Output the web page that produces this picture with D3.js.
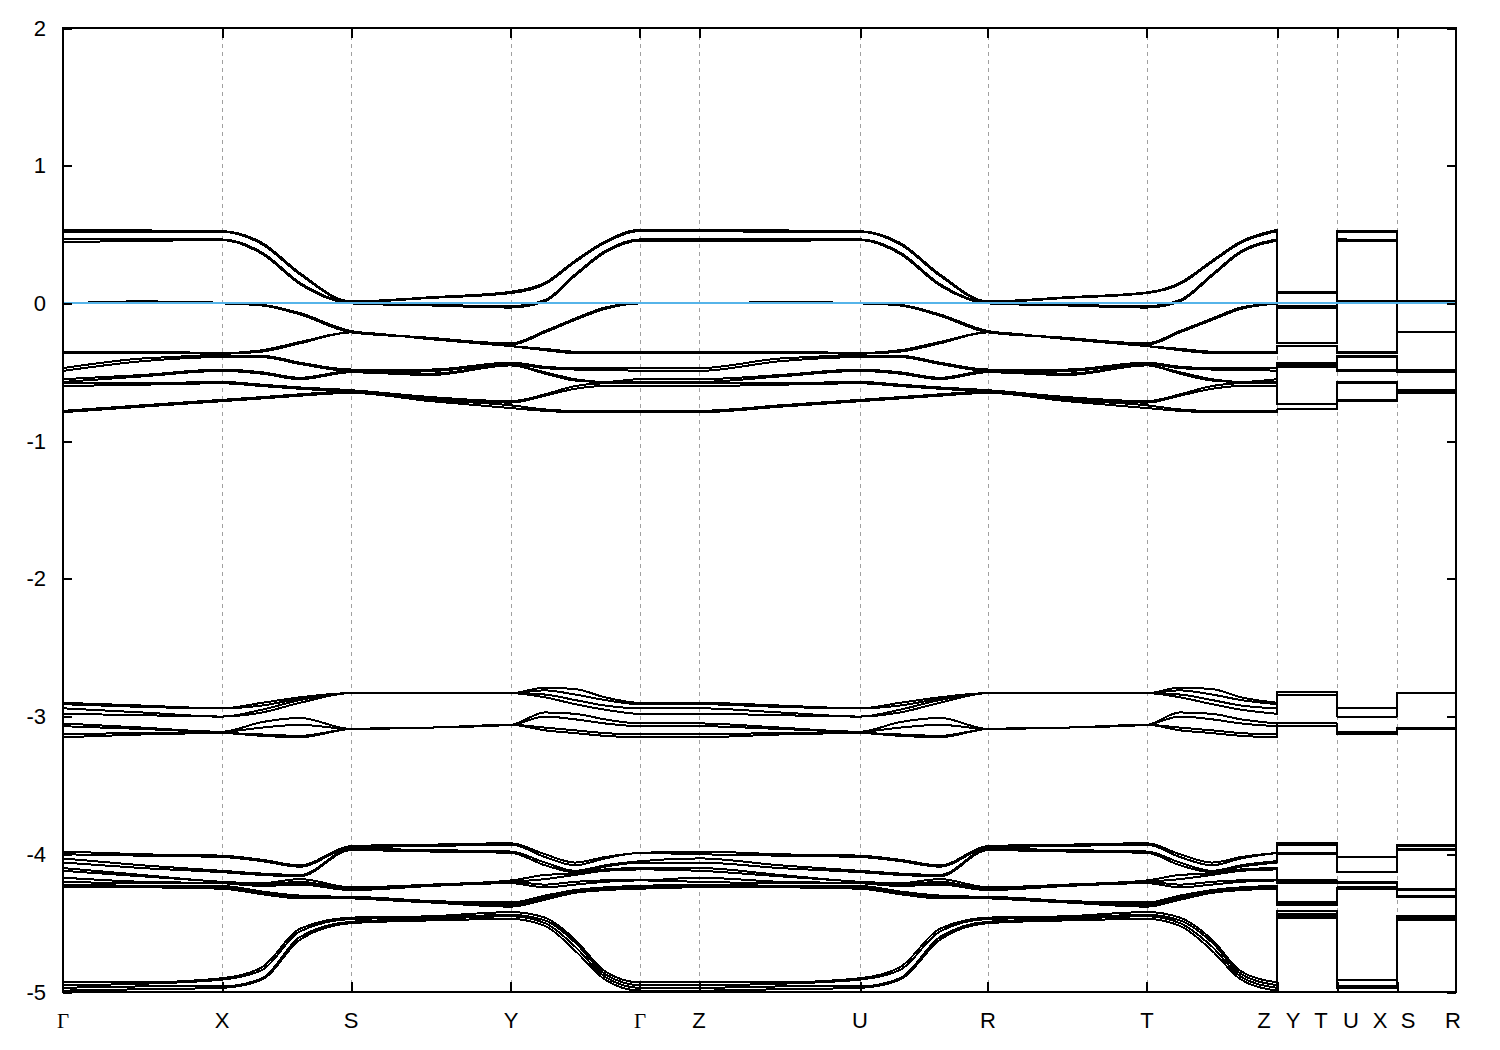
<!DOCTYPE html>
<html><head><meta charset="utf-8">
<script src="https://cdn.jsdelivr.net/npm/d3@7"></script>
<style>body{margin:0;background:#fff} svg{display:block}</style>
</head><body><svg id="chart" width="1500" height="1050"></svg>
<script>
// k-path sample positions (arbitrary path-length units)
const kSamples = [0,0.2633,0.53,0.6633,0.79,0.96,1.2267,1.4933,1.6067,1.7067,1.8067,1.9233,
  2.12,2.39,2.6567,2.79,2.9233,3.0833,3.3467,3.6133,3.7233,3.83,3.9267,4.0467,
  4.0467,4.2467, 4.2467,4.4467, 4.4467,4.6433];
// continuous pieces of the path (index ranges in kSamples)
const pieces = [[0,23],[24,25],[26,27],[28,29]];
const gridK = [0.53,0.96,1.4933,1.9233,2.12,2.6567,3.0833,3.6133,4.0467,4.2467,4.4467];
const tickLabels = ["Γ","X","S","Y","Γ","Z","U","R","T","Z","Y","T","U","X","S","R"];
const tickLabelK = [0,0.53,0.96,1.4933,1.9233,2.12,2.6567,3.0833,3.6133,4.0033,4.10,4.1933,4.2933,4.39,4.4833,4.6333];
const yTicks = [2,1,0,-1,-2,-3,-4,-5];
const fermiLevel = 0;

// band energies (eV) at each k sample
const bandA1 = [0.535,0.530,0.525,0.44,0.22,0.015,0.045,0.085,0.15,0.31,0.45,0.535, 0.535,0.530,0.525,0.44,0.21,0.015,0.045,0.080,0.15,0.31,0.45,0.535, 0.085,0.080,0.525,0.525,0.015,0.015];
const bandA2 = [0.520,0.515,0.520,0.43,0.21,0.010,0.040,0.075,0.14,0.30,0.44,0.525, 0.525,0.520,0.520,0.43,0.20,0.010,0.040,0.075,0.14,0.30,0.44,0.525, 0.075,0.075,0.520,0.520,0.010,0.010];
const bandA3 = [0.470,0.465,0.465,0.37,0.15,0.005,-0.010,-0.020,0.025,0.21,0.38,0.465, 0.465,0.465,0.465,0.37,0.14,0.005,-0.010,-0.020,0.025,0.21,0.38,0.465, -0.020,-0.020,0.465,0.460,0.005,0.005];
const bandA4 = [0.445,0.455,0.460,0.36,0.14,0.000,-0.015,-0.030,0.015,0.20,0.37,0.455, 0.455,0.455,0.460,0.36,0.13,0.000,-0.015,-0.030,0.015,0.20,0.37,0.455, -0.030,-0.030,0.455,0.455,0.000,0.000];
const bandB1 = [0.000,0.015,0.005,-0.01,-0.07,-0.20,-0.25,-0.29,-0.20,-0.11,-0.03,0.000, 0.000,0.010,0.005,-0.01,-0.08,-0.20,-0.25,-0.29,-0.20,-0.11,-0.03,0.000, -0.29,-0.29,0.020,0.020,-0.21,-0.21];
const bandB2 = [0.000,0.008,0.000,-0.015,-0.08,-0.21,-0.26,-0.31,-0.21,-0.12,-0.04,0.000, 0.000,0.005,0.000,-0.015,-0.09,-0.21,-0.26,-0.31,-0.21,-0.12,-0.04,0.000, -0.31,-0.31,0.010,0.010,-0.21,-0.21];
const bandC1 = [-0.35,-0.35,-0.36,-0.38,-0.43,-0.49,-0.52,-0.45,-0.47,-0.48,-0.47,-0.47, -0.35,-0.35,-0.36,-0.38,-0.43,-0.49,-0.52,-0.45,-0.47,-0.48,-0.47,-0.47, -0.43,-0.43,-0.35,-0.35,-0.49,-0.49];
const bandC2 = [-0.47,-0.40,-0.38,-0.34,-0.28,-0.21,-0.25,-0.30,-0.33,-0.35,-0.35,-0.35, -0.47,-0.40,-0.38,-0.34,-0.28,-0.21,-0.25,-0.30,-0.33,-0.35,-0.35,-0.35, -0.29,-0.29,-0.38,-0.38,-0.21,-0.21];
const bandC3 = [-0.36,-0.36,-0.365,-0.39,-0.44,-0.48,-0.51,-0.44,-0.46,-0.47,-0.48,-0.49, -0.36,-0.36,-0.365,-0.39,-0.44,-0.48,-0.51,-0.44,-0.46,-0.47,-0.48,-0.49, -0.44,-0.44,-0.36,-0.36,-0.48,-0.48];
const bandC4 = [-0.49,-0.42,-0.39,-0.35,-0.29,-0.21,-0.26,-0.31,-0.34,-0.36,-0.36,-0.36, -0.49,-0.42,-0.39,-0.35,-0.29,-0.21,-0.26,-0.31,-0.34,-0.36,-0.36,-0.36, -0.31,-0.31,-0.39,-0.39,-0.21,-0.21];
const bandC5 = [-0.55,-0.52,-0.48,-0.50,-0.54,-0.50,-0.48,-0.43,-0.50,-0.55,-0.57,-0.57, -0.55,-0.52,-0.48,-0.50,-0.54,-0.50,-0.48,-0.43,-0.50,-0.55,-0.57,-0.57, -0.45,-0.45,-0.48,-0.48,-0.50,-0.50];
const bandC6 = [-0.57,-0.53,-0.49,-0.51,-0.55,-0.49,-0.49,-0.45,-0.51,-0.56,-0.58,-0.58, -0.57,-0.53,-0.49,-0.51,-0.55,-0.49,-0.49,-0.45,-0.51,-0.56,-0.58,-0.58, -0.46,-0.46,-0.49,-0.49,-0.49,-0.49];
const bandC7 = [-0.58,-0.58,-0.57,-0.59,-0.61,-0.63,-0.68,-0.71,-0.66,-0.60,-0.57,-0.55, -0.58,-0.58,-0.57,-0.59,-0.61,-0.63,-0.68,-0.71,-0.66,-0.60,-0.57,-0.55, -0.73,-0.73,-0.57,-0.57,-0.63,-0.63];
const bandC8 = [-0.60,-0.59,-0.58,-0.60,-0.62,-0.64,-0.69,-0.72,-0.67,-0.62,-0.60,-0.60, -0.60,-0.59,-0.58,-0.60,-0.62,-0.64,-0.69,-0.72,-0.67,-0.62,-0.60,-0.60, -0.73,-0.73,-0.58,-0.58,-0.64,-0.64];
const bandC9 = [-0.78,-0.74,-0.70,-0.68,-0.66,-0.64,-0.70,-0.74,-0.77,-0.78,-0.78,-0.78, -0.78,-0.74,-0.70,-0.68,-0.66,-0.64,-0.70,-0.74,-0.77,-0.78,-0.78,-0.78, -0.77,-0.77,-0.70,-0.70,-0.64,-0.64];
const bandC10 = [-0.79,-0.75,-0.71,-0.69,-0.67,-0.65,-0.71,-0.76,-0.78,-0.79,-0.79,-0.79, -0.79,-0.75,-0.71,-0.69,-0.67,-0.65,-0.71,-0.76,-0.78,-0.79,-0.79,-0.79, -0.77,-0.77,-0.71,-0.71,-0.65,-0.65];
const bandD1 = [-2.90,-2.92,-2.94,-2.90,-2.86,-2.83,-2.83,-2.83,-2.79,-2.80,-2.86,-2.90, -2.90,-2.92,-2.94,-2.90,-2.86,-2.83,-2.83,-2.83,-2.79,-2.80,-2.86,-2.90, -2.82,-2.82,-2.94,-2.94,-2.83,-2.83];
const bandD2 = [-2.91,-2.93,-2.94,-2.92,-2.87,-2.83,-2.83,-2.83,-2.81,-2.84,-2.88,-2.91, -2.91,-2.93,-2.94,-2.92,-2.87,-2.83,-2.83,-2.83,-2.81,-2.84,-2.88,-2.91, -2.82,-2.82,-2.94,-2.94,-2.83,-2.83];
const bandD3 = [-2.94,-2.97,-3.00,-2.95,-2.88,-2.83,-2.83,-2.83,-2.84,-2.88,-2.92,-2.94, -2.94,-2.97,-3.00,-2.95,-2.88,-2.83,-2.83,-2.83,-2.84,-2.88,-2.92,-2.94, -2.84,-2.84,-3.00,-3.00,-2.83,-2.83];
const bandD4 = [-2.98,-2.99,-3.00,-2.97,-2.90,-2.83,-2.83,-2.83,-2.86,-2.91,-2.95,-2.98, -2.98,-2.99,-3.00,-2.97,-2.90,-2.83,-2.83,-2.83,-2.86,-2.91,-2.95,-2.98, -2.84,-2.84,-3.00,-3.00,-2.83,-2.83];
const bandD5 = [-3.05,-3.08,-3.11,-3.04,-3.01,-3.09,-3.08,-3.06,-2.97,-2.98,-3.02,-3.05, -3.05,-3.08,-3.11,-3.04,-3.01,-3.09,-3.08,-3.06,-2.97,-2.98,-3.02,-3.05, -3.05,-3.05,-3.11,-3.11,-3.08,-3.08];
const bandD6 = [-3.07,-3.09,-3.11,-3.08,-3.06,-3.09,-3.08,-3.06,-3.00,-3.02,-3.05,-3.07, -3.07,-3.09,-3.11,-3.08,-3.06,-3.09,-3.08,-3.06,-3.00,-3.02,-3.05,-3.07, -3.05,-3.05,-3.11,-3.11,-3.08,-3.08];
const bandD7 = [-3.13,-3.12,-3.12,-3.13,-3.14,-3.09,-3.08,-3.06,-3.08,-3.10,-3.12,-3.13, -3.13,-3.12,-3.12,-3.13,-3.14,-3.09,-3.08,-3.06,-3.08,-3.10,-3.12,-3.13, -3.07,-3.07,-3.13,-3.13,-3.09,-3.09];
const bandD8 = [-3.15,-3.13,-3.12,-3.14,-3.15,-3.09,-3.08,-3.06,-3.10,-3.12,-3.14,-3.15, -3.15,-3.13,-3.12,-3.14,-3.15,-3.09,-3.08,-3.06,-3.10,-3.12,-3.14,-3.15, -3.07,-3.07,-3.13,-3.13,-3.09,-3.09];
const bandE1 = [-3.98,-4.00,-4.01,-4.04,-4.08,-3.94,-3.93,-3.92,-4.00,-4.06,-4.03,-3.99, -3.98,-4.00,-4.01,-4.04,-4.08,-3.94,-3.93,-3.92,-4.00,-4.06,-4.03,-3.99, -3.92,-3.92,-4.02,-4.02,-3.93,-3.93];
const bandE2 = [-4.00,-4.01,-4.02,-4.05,-4.09,-3.95,-3.94,-3.93,-4.02,-4.08,-4.02,-3.99, -4.00,-4.01,-4.02,-4.05,-4.09,-3.95,-3.94,-3.93,-4.02,-4.08,-4.02,-3.99, -3.93,-3.93,-4.02,-4.02,-3.94,-3.94];
const bandE3 = [-4.03,-4.08,-4.12,-4.14,-4.15,-3.96,-3.97,-3.98,-4.06,-4.13,-4.08,-4.05, -4.03,-4.08,-4.12,-4.14,-4.15,-3.96,-3.97,-3.98,-4.06,-4.13,-4.08,-4.05, -3.99,-3.99,-4.13,-4.13,-3.96,-3.96];
const bandE4 = [-4.06,-4.10,-4.13,-4.15,-4.16,-3.97,-3.98,-3.99,-4.08,-4.15,-4.09,-4.06, -4.06,-4.10,-4.13,-4.15,-4.16,-3.97,-3.98,-3.99,-4.08,-4.15,-4.09,-4.06, -4.00,-4.00,-4.13,-4.13,-3.97,-3.97];
const bandE5 = [-4.10,-4.15,-4.20,-4.21,-4.18,-4.24,-4.22,-4.19,-4.15,-4.12,-4.11,-4.10, -4.10,-4.15,-4.20,-4.21,-4.18,-4.24,-4.22,-4.19,-4.15,-4.12,-4.11,-4.10, -4.19,-4.19,-4.20,-4.20,-4.25,-4.25];
const bandE6 = [-4.12,-4.16,-4.20,-4.22,-4.20,-4.25,-4.23,-4.20,-4.18,-4.14,-4.12,-4.11, -4.12,-4.16,-4.20,-4.22,-4.20,-4.25,-4.23,-4.20,-4.18,-4.14,-4.12,-4.11, -4.20,-4.20,-4.20,-4.20,-4.25,-4.25];
const bandE7 = [-4.17,-4.20,-4.21,-4.23,-4.21,-4.25,-4.22,-4.20,-4.22,-4.20,-4.19,-4.19, -4.17,-4.20,-4.21,-4.23,-4.21,-4.25,-4.22,-4.20,-4.22,-4.20,-4.19,-4.19, -4.20,-4.20,-4.21,-4.21,-4.26,-4.26];
const bandE8 = [-4.20,-4.21,-4.21,-4.23,-4.22,-4.26,-4.23,-4.21,-4.24,-4.22,-4.20,-4.19, -4.20,-4.21,-4.21,-4.23,-4.22,-4.26,-4.23,-4.21,-4.24,-4.22,-4.20,-4.19, -4.21,-4.21,-4.21,-4.21,-4.26,-4.26];
const bandE9 = [-4.22,-4.23,-4.23,-4.27,-4.30,-4.31,-4.34,-4.35,-4.30,-4.26,-4.24,-4.23, -4.22,-4.23,-4.23,-4.27,-4.30,-4.31,-4.34,-4.35,-4.30,-4.26,-4.24,-4.23, -4.35,-4.35,-4.24,-4.24,-4.30,-4.30];
const bandE10 = [-4.22,-4.23,-4.24,-4.28,-4.31,-4.31,-4.34,-4.36,-4.31,-4.27,-4.25,-4.24, -4.22,-4.23,-4.24,-4.28,-4.31,-4.31,-4.34,-4.36,-4.31,-4.27,-4.25,-4.24, -4.36,-4.36,-4.24,-4.24,-4.31,-4.31];
const bandE11 = [-4.24,-4.24,-4.24,-4.28,-4.31,-4.32,-4.35,-4.37,-4.32,-4.28,-4.25,-4.24, -4.24,-4.24,-4.24,-4.28,-4.31,-4.32,-4.35,-4.37,-4.32,-4.28,-4.25,-4.24, -4.37,-4.37,-4.24,-4.24,-4.31,-4.31];
const bandE12 = [-4.24,-4.24,-4.25,-4.29,-4.32,-4.32,-4.35,-4.38,-4.33,-4.28,-4.26,-4.25, -4.24,-4.24,-4.25,-4.29,-4.32,-4.32,-4.35,-4.38,-4.33,-4.28,-4.26,-4.25, -4.37,-4.37,-4.25,-4.25,-4.31,-4.31];
const bandF1 = [-4.93,-4.93,-4.90,-4.82,-4.54,-4.46,-4.45,-4.42,-4.46,-4.62,-4.85,-4.93, -4.93,-4.93,-4.90,-4.82,-4.54,-4.46,-4.45,-4.42,-4.46,-4.62,-4.85,-4.93, -4.41,-4.41,-4.91,-4.91,-4.45,-4.45];
const bandF2 = [-4.95,-4.94,-4.91,-4.84,-4.56,-4.47,-4.46,-4.44,-4.48,-4.64,-4.87,-4.95, -4.95,-4.94,-4.91,-4.84,-4.56,-4.47,-4.46,-4.44,-4.48,-4.64,-4.87,-4.95, -4.43,-4.43,-4.91,-4.91,-4.46,-4.46];
const bandF3 = [-4.97,-4.96,-4.96,-4.90,-4.60,-4.49,-4.47,-4.45,-4.50,-4.67,-4.89,-4.97, -4.97,-4.96,-4.96,-4.90,-4.60,-4.49,-4.47,-4.45,-4.50,-4.67,-4.89,-4.97, -4.45,-4.45,-4.96,-4.96,-4.48,-4.48];
const bandF4 = [-4.99,-4.98,-4.97,-4.91,-4.62,-4.50,-4.48,-4.47,-4.52,-4.70,-4.91,-4.99, -4.99,-4.98,-4.97,-4.91,-4.62,-4.50,-4.48,-4.47,-4.52,-4.70,-4.91,-4.99, -4.46,-4.46,-4.97,-4.97,-4.48,-4.48];

const bands = [bandA1,bandA2,bandA3,bandA4,bandB1,bandB2,bandC1,bandC2,bandC3,bandC4,bandC5,bandC6,bandC7,bandC8,bandC9,bandC10,
  bandD1,bandD2,bandD3,bandD4,bandD5,bandD6,bandD7,bandD8,
  bandE1,bandE2,bandE3,bandE4,bandE5,bandE6,bandE7,bandE8,bandE9,bandE10,bandE11,bandE12,
  bandF1,bandF2,bandF3,bandF4];

const xScale = d3.scaleLinear().domain([kSamples[0], kSamples[kSamples.length-1]]).range([63,1456]);
const yScale = d3.scaleLinear().domain([-5,2]).range([992,28]);
const svg = d3.select('#chart');

// vertical dashed grid lines at high-symmetry points
svg.append('g').selectAll('line').data(gridK).join('line')
  .attr('x1',d=>Math.round(xScale(d))+0.5).attr('x2',d=>Math.round(xScale(d))+0.5)
  .attr('y1',yScale(2)).attr('y2',yScale(-5))
  .attr('stroke','#a0a0a0').attr('stroke-width',1).attr('stroke-dasharray','4,4');

// bands sorted by energy at every k point (band index order)
const nS = kSamples.length;
const cols = d3.range(nS).map(j => bands.map(b=>b[j]).sort((p,q)=>q-p));
const sortedBands = bands.map((_,n)=> d3.range(nS).map(j=>cols[j][n]));
const curveLine = d3.line().x(d=>xScale(d[0])).y(d=>yScale(d[1])).curve(d3.curveMonotoneX);
const flatLine = d3.line().x(d=>xScale(d[0])).y(d=>yScale(d[1]));
function bandPath(vals){
  return pieces.map(([s,e],i)=>{
    const pts = d3.range(s,e+1).map(j=>[kSamples[j], vals[j]]);
    const p = (i===0?curveLine:flatLine)(pts);
    return i===0 ? p : 'L'+p.slice(1);
  }).join('');
}
svg.append('g').selectAll('path').data(sortedBands).join('path')
  .attr('d',bandPath).attr('fill','none').attr('stroke','#000')
  .attr('stroke-width',2).attr('stroke-linejoin','round')
  .attr('shape-rendering','crispEdges');

// Fermi level
svg.append('line').attr('x1',xScale(kSamples[0])).attr('x2',xScale(kSamples[nS-1]))
  .attr('y1',yScale(fermiLevel)).attr('y2',yScale(fermiLevel))
  .attr('stroke','#56b4e9').attr('stroke-width',2).attr('shape-rendering','crispEdges');

// axes
const fontSans = 'Liberation Sans, Arial, sans-serif';
const axLeft = svg.append('g').attr('transform','translate(63,0)')
  .call(d3.axisLeft(yScale).tickValues(yTicks).tickSize(-9).tickPadding(17).tickFormat(d=>String(d)));
const axRight = svg.append('g').attr('transform','translate(1456,0)')
  .call(d3.axisRight(yScale).tickValues(yTicks).tickSize(-9).tickFormat(''));
const axBottom = svg.append('g').attr('transform','translate(0,992)')
  .call(d3.axisBottom(xScale).tickValues(gridK).tickSize(-10).tickFormat(''));
const axTop = svg.append('g').attr('transform','translate(0,28)')
  .call(d3.axisTop(xScale).tickValues(gridK).tickSize(-10).tickFormat(''));
[axLeft,axRight,axBottom,axTop].forEach(g=>{
  g.select('.domain').remove();
  g.selectAll('.tick line').attr('stroke','#000').attr('stroke-width',2).attr('shape-rendering','crispEdges');
});
axLeft.selectAll('text').attr('font-family',fontSans).attr('font-size',22).attr('fill','#000');

// frame
svg.append('rect').attr('x',63).attr('y',28).attr('width',1456-63).attr('height',992-28)
  .attr('fill','none').attr('stroke','#000').attr('stroke-width',2).attr('shape-rendering','crispEdges');

// k-point labels
svg.append('g').selectAll('text').data(tickLabels).join('text')
  .attr('x',(d,i)=>xScale(tickLabelK[i])).attr('y',1028)
  .attr('text-anchor','middle')
  .attr('font-family',d=> d==='Γ' ? 'Liberation Serif, Times New Roman, serif' : fontSans)
  .attr('font-size',d=> d==='Γ' ? 21 : 22)
  .text(d=>d);
</script></body></html>
